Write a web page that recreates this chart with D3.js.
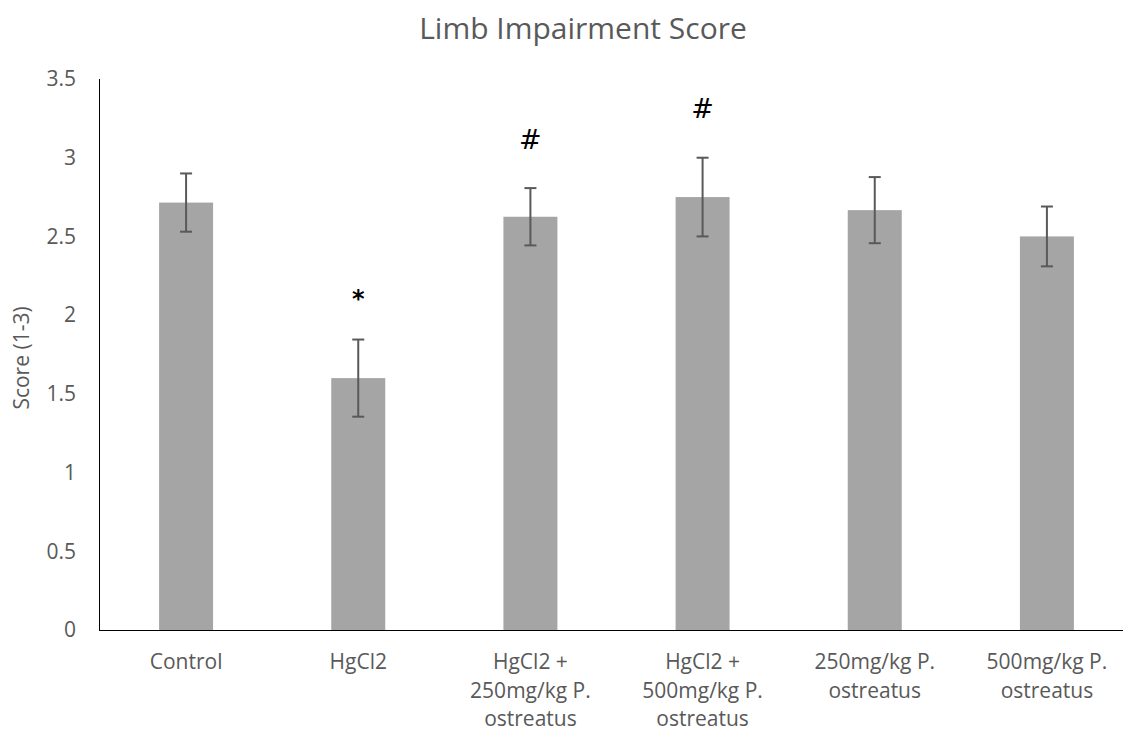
<!DOCTYPE html>
<html>
<head>
<meta charset="utf-8">
<script src="https://cdn.jsdelivr.net/npm/d3@7"></script>
<style>
  html, body { margin: 0; padding: 0; background: #fff; }
  svg { display: block; font-family: "Open Sans", Lato, sans-serif; }
</style>
</head>
<body>
<svg id="chart" width="1123" height="734"></svg>
<script>
// Group names (each entry is a list of label lines)
const categories = [
  ["Control"],
  ["HgCl2"],
  ["HgCl2 +", "250mg/kg P.", "ostreatus"],
  ["HgCl2 +", "500mg/kg P.", "ostreatus"],
  ["250mg/kg P.", "ostreatus"],
  ["500mg/kg P.", "ostreatus"]
];
// Mean score per group and its error (±)
const means  = [2.715, 1.60, 2.625, 2.75, 2.667, 2.50];
const errors = [0.185, 0.245, 0.182, 0.25, 0.21, 0.19];
// Significance markers above the error bars
const markers = ["", "*", "#", "#", "", ""];
const yTicks = [0, 0.5, 1, 1.5, 2, 2.5, 3, 3.5];

const svg = d3.select("#chart");
const W = 1123, H = 734;
const margin = { left: 100, top: 79, bottom: 104 };
const plotBottom = H - margin.bottom; // 630

const keys = categories.map((_, i) => i);
const x = d3.scaleBand().domain(keys).range([margin.left, 1133]).paddingInner(0).paddingOuter(0);
const y = d3.scaleLinear().domain([0, 3.5]).range([plotBottom, margin.top]);
const barW = 54;

// Title
svg.append("text")
  .attr("x", 583).attr("y", 28)
  .attr("dy", "0.35em")
  .attr("text-anchor", "middle")
  .attr("fill", "#595959")
  .style("font-size", "30px")
  .text("Limb Impairment Score");

// Y axis title
svg.append("text")
  .attr("transform", `translate(22,358) rotate(-90)`)
  .attr("dy", "0.35em")
  .attr("text-anchor", "middle")
  .attr("fill", "#595959")
  .style("font-size", "21px")
  .text("Score (1-3)");

// Y tick labels
svg.append("g").selectAll("text").data(yTicks).join("text")
  .attr("x", 76).attr("y", d => y(d))
  .attr("dy", "0.35em")
  .attr("text-anchor", "end")
  .attr("fill", "#595959")
  .style("font-size", "21px")
  .text(d => d3.format("")(d));

// Bars
svg.append("g").selectAll("rect").data(keys).join("rect")
  .attr("x", i => x(i) + x.bandwidth() / 2 - barW / 2)
  .attr("width", barW)
  .attr("y", i => y(means[i]))
  .attr("height", i => plotBottom - y(means[i]))
  .attr("fill", "#a5a5a5");

// Error bars
const eb = svg.append("g").attr("stroke", "#595959").attr("stroke-width", 2);
keys.forEach(i => {
  const cx = x(i) + x.bandwidth() / 2;
  const hi = y(means[i] + errors[i]), lo = y(means[i] - errors[i]);
  eb.append("line").attr("x1", cx).attr("x2", cx).attr("y1", hi).attr("y2", lo);
  eb.append("line").attr("x1", cx - 6).attr("x2", cx + 6).attr("y1", hi).attr("y2", hi);
  eb.append("line").attr("x1", cx - 6).attr("x2", cx + 6).attr("y1", lo).attr("y2", lo);
});

// Significance markers
svg.append("g").selectAll("text").data(keys.filter(i => markers[i])).join("text")
  .attr("x", i => x(i) + x.bandwidth() / 2)
  .attr("y", i => y(means[i] + errors[i]) - 49)
  .attr("dy", i => markers[i] === "*" ? "0.7em" : "0.35em")
  .attr("text-anchor", "middle")
  .attr("fill", "#000")
  .style("font-family", "'DejaVu Sans', sans-serif")
  .style("font-size", i => markers[i] === "*" ? "24px" : "27px")
  .style("font-weight", i => markers[i] === "*" ? "bold" : "normal")
  .text(i => markers[i]);

// Axes lines
svg.append("line")
  .attr("x1", margin.left - 0.5).attr("x2", margin.left - 0.5)
  .attr("y1", margin.top).attr("y2", plotBottom)
  .attr("stroke", "#000").attr("stroke-width", 1);
svg.append("line")
  .attr("x1", margin.left - 1).attr("x2", W)
  .attr("y1", plotBottom + 0.5).attr("y2", plotBottom + 0.5)
  .attr("stroke", "#000").attr("stroke-width", 1);

// Category labels
const xl = svg.append("g").selectAll("text").data(keys).join("text")
  .attr("x", i => x(i) + x.bandwidth() / 2)
  .attr("y", 662)
  .attr("text-anchor", "middle")
  .attr("fill", "#595959")
  .style("font-size", "21px");
xl.each(function(i) {
  d3.select(this).selectAll("tspan").data(categories[i]).join("tspan")
    .attr("x", x(i) + x.bandwidth() / 2)
    .attr("dy", (d, j) => j === 0 ? "0.35em" : 28.5)
    .text(d => d);
});
</script>
</body>
</html>
